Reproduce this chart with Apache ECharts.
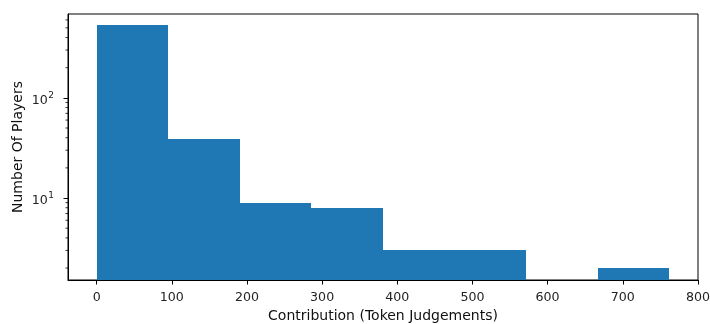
<!DOCTYPE html>
<html>
<head>
<meta charset="utf-8">
<script src="https://cdn.jsdelivr.net/npm/echarts@6/dist/echarts.min.js"></script>
<style>
html,body{margin:0;padding:0;background:#fff;}
#c{width:710px;height:324px;}
</style>
</head>
<body>
<div id="c"></div>
<script>
// Histogram bin edges (Contribution) and counts (Number Of Players)
var binEdges = [0, 95.25, 190.5, 285.75, 381, 476.25, 571.5, 666.75, 762];
var counts = [531, 39, 9, 8, 3, 3, 0, 2];
var xTicks = [0, 100, 200, 300, 400, 500, 600, 700, 800];
var yMajorTicks = [10, 100];
var yMinorTicks = [2, 3, 4, 5, 6, 7, 8, 9, 20, 30, 40, 50, 60, 70, 80, 90, 200, 300, 400, 500, 600];
var xMin = -38.1, xMax = 800.1;
var yMin = 1.52, yMax = 687;

var bars = [];
for (var i = 0; i < counts.length; i++) {
  if (counts[i] > 0) bars.push([binEdges[i], binEdges[i + 1], counts[i]]);
}
var font = 'DejaVu Sans';
var tickFs = 12.6, nameFs = 14;
var chart = echarts.init(document.getElementById('c'), null, {renderer: 'canvas'});
chart.setOption({
  animation: false,
  backgroundColor: '#fff',
  grid: {left: 68, right: 12, top: 14, bottom: 44, show: true, borderColor: '#000', borderWidth: 1, backgroundColor: 'transparent', containLabel: false, outerBoundsMode: 'none'},
  xAxis: {
    type: 'value', min: xMin, max: xMax, z: 10,
    name: 'Contribution (Token Judgements)', nameLocation: 'middle', nameGap: 29, nameMoveOverlap: false,
    nameTextStyle: {fontFamily: font, fontSize: nameFs, color: '#111'},
    axisLine: {show: true, onZero: false, lineStyle: {color: '#000', width: 1}},
    axisTick: {show: true, length: 4.5, lineStyle: {color: '#000', width: 1}, customValues: xTicks},
    axisLabel: {fontFamily: font, fontSize: tickFs, color: '#222', margin: 11, customValues: xTicks},
    splitLine: {show: false}
  },
  yAxis: {
    type: 'log', logBase: 10, min: yMin, max: yMax, z: 10,
    name: 'Number Of Players', nameLocation: 'middle', nameGap: 43, nameMoveOverlap: false,
    nameTextStyle: {fontFamily: font, fontSize: nameFs, color: '#111'},
    axisLine: {show: true, onZero: false, lineStyle: {color: '#000', width: 1}},
    axisTick: {show: true, length: 4.5, lineStyle: {color: '#000', width: 1}, customValues: yMajorTicks},
    axisLabel: {
      fontFamily: font, fontSize: tickFs, color: '#222', margin: 14, customValues: yMajorTicks,
      formatter: function (v) {
        var e = Math.round(Math.log10(v));
        return '{b|10}{s|' + e + '}';
      },
      rich: {
        b: {fontFamily: font, fontSize: tickFs, color: '#222', verticalAlign: 'middle', padding: [5, 0, 0, 0]},
        s: {fontFamily: font, fontSize: 9, color: '#222', verticalAlign: 'middle', padding: [0, 0, 4, 0.5]}
      }
    },
    splitLine: {show: false}
  },
  series: [
    {
      type: 'custom',
      clip: false,
      z: 2,
      data: bars,
      renderItem: function (params, api) {
        var p0 = api.coord([api.value(0), yMin]);
        var p1 = api.coord([api.value(1), api.value(2)]);
        var x0 = Math.round(p0[0]), x1 = Math.round(p1[0]);
        var y0 = Math.round(p0[1]), y1 = Math.round(p1[1]);
        return {
          type: 'rect',
          shape: {x: x0, y: y1, width: x1 - x0, height: y0 - y1},
          style: {fill: '#1f77b4'}
        };
      },
      encode: {x: [0, 1], y: 2}
    },
    {
      type: 'custom',
      clip: false,
      silent: true,
      z: 12,
      data: yMinorTicks.map(function (v) { return [xMin, v]; }),
      renderItem: function (params, api) {
        var p = api.coord([api.value(0), api.value(1)]);
        return {
          type: 'line',
          shape: {x1: p[0] - 2.5, y1: p[1], x2: p[0], y2: p[1]},
          style: {stroke: '#000', lineWidth: 0.8}
        };
      },
      encode: {x: 0, y: 1}
    }
  ]
});
</script>
</body>
</html>
